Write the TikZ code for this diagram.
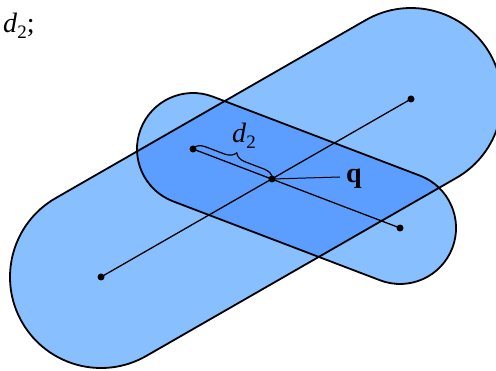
\documentclass[tikz,border=0pt]{standalone}
\usepackage{fontspec}
\setmainfont{Liberation Serif}
\usetikzlibrary{decorations.pathreplacing}
\definecolor{lightcap}{HTML}{87BFFF}
\definecolor{darkcap}{HTML}{5C9EFF}
\newcommand{\dtwo}{\textit{d}\raisebox{-0.2em}{\fontsize{19}{20}\selectfont 2}}
\begin{document}
\begin{tikzpicture}[x=1pt,y=1pt,
  outline/.style={draw=black,line width=1.8pt},
  segline/.style={draw=black,line width=1.3pt},
  dot/.style={circle,fill=black,inner sep=0pt,minimum size=7pt},
  bigfont/.style={font=\fontsize{28}{34}\selectfont,inner sep=0pt,anchor=base west}]
\useasboundingbox (0,0) rectangle (496,370);
% capsule paths
\def\bigcap{[shift={(101,93)},rotate=29.86] (0,-91) -- (357.5,-91) arc(-90:90:91) -- (0,91) arc(90:270:91) -- cycle}
\def\smallcap{[shift={(193,221)},rotate=-20.88] (0,-56) -- (221.6,-56) arc(-90:90:56) -- (0,56) arc(90:270:56) -- cycle}
\fill[lightcap] \bigcap;
\fill[lightcap] \smallcap;
\begin{scope}
  \clip \bigcap;
  \fill[darkcap] \smallcap;
\end{scope}
\draw[outline] \bigcap;
\draw[outline] \smallcap;
% points
\node[dot] (A) at (101,93) {};
\node[dot] (B) at (411,271) {};
\node[dot] (C) at (193,221) {};
\node[dot] (D) at (400,142) {};
\node[dot] (Q) at (272,191) {};
\draw[segline] (A.center) -- (B.center);
\draw[segline] (C.center) -- (D.center);
% q label
\node[bigfont] (ql) at (346,187) {\textbf{q}};
\coordinate (qe) at (340,193);
\draw[line width=1pt] (Q.center) -- (qe);
% brace
\draw[line width=1.2pt,decorate,decoration={brace,amplitude=11pt,raise=1pt}] (C.center) -- (Q.center);
\node[bigfont] (dl) at (232,227) {\dtwo};
% top-left label
\node[bigfont] (tl) at (3,337) {\dtwo;};
\end{tikzpicture}
\end{document}
